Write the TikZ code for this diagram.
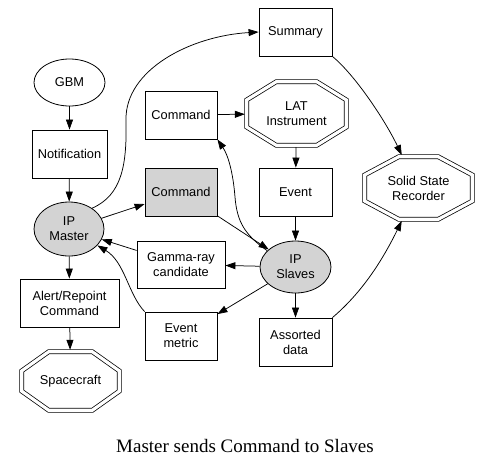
\documentclass[tikz,border=0pt]{standalone}
\usepackage{fontspec}
\setmainfont{Liberation Sans}
\newfontfamily\capfont{Liberation Serif}
\usetikzlibrary{arrows.meta,calc,shapes.geometric}
\definecolor{nodegray}{HTML}{D3D3D3}
\newcommand\octoshape[3]{%
  \draw[line width=0.75pt, double, double distance=3.2pt]
   ($(#1.north)!#2!(#1.north west)$) -- ($(#1.north)!#2!(#1.north east)$) --
   ($(#1.east)!#3!(#1.north east)$) -- ($(#1.east)!#3!(#1.south east)$) --
   ($(#1.south)!#2!(#1.south east)$) -- ($(#1.south)!#2!(#1.south west)$) --
   ($(#1.west)!#3!(#1.south west)$) -- ($(#1.west)!#3!(#1.north west)$) -- cycle;
}
\begin{document}
\begin{tikzpicture}[x=1pt,y=-1pt,
  every node/.style={font=\fontsize{12.8}{15}\selectfont, align=center, inner sep=0pt},
  box/.style={draw, rectangle, line width=0.8pt},
  oval/.style={draw, ellipse, line width=0.8pt},
  shaded/.style={fill=nodegray},
  octo/.style={rectangle},
  edge/.style={line width=0.75pt, -{Triangle[length=10pt,width=7pt]}},
  tooct/.style={shorten >=2pt},
  fromoct/.style={shorten <=2pt},
]
\fill[white] (0,0) rectangle (487,467);
\useasboundingbox (0,0) rectangle (487,467);

% left column
\node[oval, minimum width=71pt, minimum height=47pt] (gbm) at (69.5,82.5) {GBM};
\node[box, minimum width=75pt, minimum height=48pt] (notif) at (69.5,154) {Notification};
\node[oval, shaded, minimum width=70pt, minimum height=54pt] (master) at (69,229) {IP\\Master};
\node[box, minimum width=99pt, minimum height=48pt] (alert) at (69.5,303) {Alert/Repoint\\Command};
\node[octo, minimum width=97pt, minimum height=58pt] (space) at (70.5,381) {Spacecraft};

% middle column
\node[box, minimum width=72pt, minimum height=48pt] (cmd1) at (181,115) {Command};
\node[box, shaded, minimum width=72pt, minimum height=48pt] (cmd2) at (181,192) {Command};
\node[box, minimum width=88pt, minimum height=47pt] (gamma) at (181,264.5) {Gamma-ray\\candidate};
\node[box, minimum width=72pt, minimum height=48pt] (evm) at (181,336) {Event\\metric};

% right-middle column
\node[box, minimum width=73pt, minimum height=48pt] (summary) at (295.5,32) {Summary};
\node[octo, minimum width=99pt, minimum height=63pt] (lat) at (296.5,113.5) {LAT\\Instrument};
\node[box, minimum width=73pt, minimum height=48pt] (event) at (295.5,192) {Event};
\node[oval, shaded, minimum width=71pt, minimum height=52pt] (slaves) at (295.5,267) {IP\\Slaves};
\node[box, minimum width=73pt, minimum height=48pt] (assorted) at (295.5,342) {Assorted\\data};

% right column
\node[octo, minimum width=107pt, minimum height=62pt] (ssr) at (418.5,188) {Solid State\\Recorder};

\octoshape{space}{0.45}{0.35}
\octoshape{lat}{0.41}{0.43}
\octoshape{ssr}{0.37}{0.42}

% edges
\draw[edge] (gbm) -- (notif);
\draw[edge] (notif) -- (master);
\draw[edge] (master.42) .. controls (122,195) and (127,165) .. (126,120)
  .. controls (125,70) and (190,36) .. (summary.west);
\draw[edge] (master) -- (cmd2);
\draw[edge, tooct] (cmd1) -- (lat);
\draw[edge, fromoct] (lat) -- (event);
\draw[edge] (event) -- (slaves);
\draw[edge] (slaves.150) .. controls (245,235) and (237,222) .. (235,197)
  .. controls (233,172) and (228,155) .. (cmd1.south east);
\draw[edge] (cmd2) -- (slaves);
\draw[edge] (slaves) -- (gamma);
\draw[edge] (gamma) -- (master);
\draw[edge] (slaves) -- (evm);
\draw[edge] (evm.north west) .. controls (128,294) and (125,262) .. (master.-30);
\draw[edge] (master) -- (alert);
\draw[edge, tooct] (alert) -- (space);
\draw[edge] (slaves) -- (assorted);
\draw[edge, tooct] (assorted.north east) .. controls (365,290) and (385,255) .. (ssr.243);
\draw[edge, tooct] (summary.south east) .. controls (355,75) and (385,120) .. (ssr.117);

\node[font=\capfont\fontsize{19}{22}\selectfont, anchor=base] (cap) at (245,452) {Master sends Command to Slaves};
\end{tikzpicture}
\end{document}
